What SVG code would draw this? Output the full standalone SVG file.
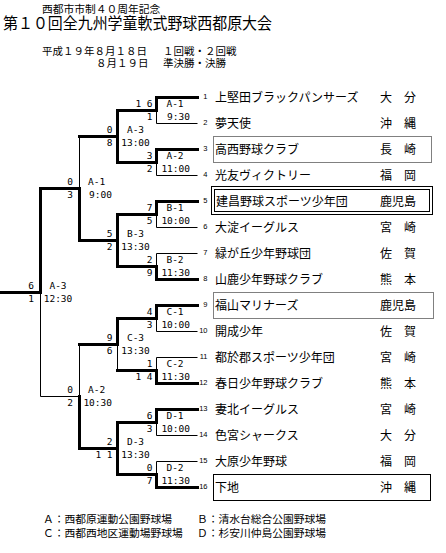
<svg xmlns="http://www.w3.org/2000/svg" width="446" height="553" viewBox="0 0 446 553">
<style>
.j{font-family:"Noto Sans CJK JP","Noto Sans CJK SC",sans-serif;fill:#000}
.nm{font-size:12px}
.no{font-family:"Liberation Sans",sans-serif;font-size:7.5px;text-anchor:end;fill:#000}
.s{font-family:"DejaVu Sans Mono",monospace;font-size:9.5px;fill:#000}
.e{text-anchor:end}
.m{text-anchor:middle}
.k{stroke:#000;stroke-width:3;fill:none;stroke-linejoin:miter;stroke-linecap:square}
.n{stroke:#000;stroke-width:1;fill:none}
.dot{stroke:#000;stroke-width:1;fill:none;stroke-dasharray:1 1}
.box{stroke:#000;stroke-width:1;fill:none}
</style>
<rect width="446" height="553" fill="#fff"/>
<g id="title">
<text class="j" x="42" y="12.5" font-size="10.75">西都市市制４０周年記念</text>
<text class="j" x="3" y="28.5" font-size="16" textLength="269" lengthAdjust="spacingAndGlyphs">第１０回全九州学童軟式野球西都原大会</text>
<text class="j" x="42" y="55" font-size="10.5">平成１９年８月１８日</text>
<text class="j" x="163" y="55" font-size="10.5">１回戦・２回戦</text>
<text class="j" x="96" y="66.5" font-size="10.5">８月１９日</text>
<text class="j" x="163" y="66.5" font-size="10.5">準決勝・決勝</text>
</g>
<g id="connectors" transform="translate(0.5,0.5)">
<path class="k" d="M197,97H156V110H117V162H156V149H197"/>
<path class="k" d="M117,136H79"/>
<path class="k" d="M197,201H156V214H117V266H156V279H197"/>
<path class="k" d="M117,240H79V188H40V292H0"/>
<path class="k" d="M197,305H156V318H117V344H79"/>
<path class="k" d="M197,383H156V370H117"/>
<path class="k" d="M197,409H156V422H117V474H156V487H197"/>
<path class="k" d="M117,448H79V396"/>
<path class="n" d="M156,110V123H197"/>
<path class="n" d="M156,162V175H197"/>
<path class="n" d="M156,214V227H197"/>
<path class="n" d="M156,266V253H197"/>
<path class="n" d="M156,318V331H197"/>
<path class="n" d="M156,370V357H197"/>
<path class="n" d="M117,344V370"/>
<path class="n" d="M156,422V435H197"/>
<path class="n" d="M156,474V461H197"/>
<path class="n" d="M79,136V188"/>
<path class="n" d="M79,344V396H40V292"/>
</g>
<g id="match-A1"><text class="s" x="135.4" y="107">1<tspan dx="5.7">6</tspan></text><text class="s e" x="152.5" y="119.5">1</text><text class="s m" x="175" y="107">A-1</text><text class="s e" x="190" y="119.5">9:30</text></g>
<g id="match-A2"><text class="s e" x="152.5" y="159">3</text><text class="s e" x="152.5" y="171.5">2</text><text class="s m" x="175" y="159">A-2</text><text class="s e" x="190" y="171.5">11:00</text></g>
<g id="match-B1"><text class="s e" x="152.5" y="211">7</text><text class="s e" x="152.5" y="223.5">5</text><text class="s m" x="175" y="211">B-1</text><text class="s e" x="190" y="223.5">10:00</text></g>
<g id="match-B2"><text class="s e" x="152.5" y="263">2</text><text class="s e" x="152.5" y="275.5">9</text><text class="s m" x="175" y="263">B-2</text><text class="s e" x="190" y="275.5">11:30</text></g>
<g id="match-C1"><text class="s e" x="152.5" y="315">4</text><text class="s e" x="152.5" y="327.5">3</text><text class="s m" x="175" y="315">C-1</text><text class="s e" x="190" y="327.5">10:00</text></g>
<g id="match-C2"><text class="s e" x="152.5" y="367">1</text><text class="s" x="135.4" y="379.5">1<tspan dx="5.7">4</tspan></text><text class="s m" x="175" y="367">C-2</text><text class="s e" x="190" y="379.5">11:30</text></g>
<g id="match-D1"><text class="s e" x="152.5" y="419">6</text><text class="s e" x="152.5" y="431.5">3</text><text class="s m" x="175" y="419">D-1</text><text class="s e" x="190" y="431.5">10:00</text></g>
<g id="match-D2"><text class="s e" x="152.5" y="471">0</text><text class="s e" x="152.5" y="483.5">7</text><text class="s m" x="175" y="471">D-2</text><text class="s e" x="190" y="483.5">11:30</text></g>
<g id="match-A3"><text class="s e" x="112.5" y="133">0</text><text class="s e" x="112.5" y="145.5">8</text><text class="s m" x="135.5" y="133">A-3</text><text class="s m" x="135.5" y="145.5">13:00</text></g>
<g id="match-B3"><text class="s e" x="112.5" y="237">5</text><text class="s e" x="112.5" y="249.5">2</text><text class="s m" x="135.5" y="237">B-3</text><text class="s m" x="135.5" y="249.5">13:30</text></g>
<g id="match-C3"><text class="s e" x="112.5" y="341">9</text><text class="s e" x="112.5" y="353.5">6</text><text class="s m" x="135.5" y="341">C-3</text><text class="s m" x="135.5" y="353.5">13:30</text></g>
<g id="match-D3"><text class="s e" x="112.5" y="445">2</text><text class="s" x="95.4" y="457.5">1<tspan dx="5.7">1</tspan></text><text class="s m" x="135.5" y="445">D-3</text><text class="s m" x="135.5" y="457.5">13:30</text></g>
<g id="semi-A1"><text class="s e" x="73" y="185">0</text><text class="s e" x="73" y="197.5">3</text><text class="s" x="88" y="185">A-1</text><text class="s e" x="112" y="197.5">9:00</text></g>
<g id="semi-A2"><text class="s e" x="73" y="393">0</text><text class="s e" x="73" y="405.5">2</text><text class="s" x="88" y="393">A-2</text><text class="s e" x="112" y="405.5">10:30</text></g>
<g id="final-A3"><text class="s e" x="34" y="289">6</text><text class="s e" x="34" y="301.5">1</text><text class="s m" x="58" y="289">A-3</text><text class="s m" x="58" y="301.5">12:30</text></g>
<g id="team1"><text class="no" x="207.5" y="98.5">1</text><text class="j nm" x="215" y="102">上堅田ブラックパンサーズ</text><text class="j nm" x="380" y="102">大　分</text></g>
<g id="team2"><text class="no" x="207.5" y="124.5">2</text><text class="j nm" x="215" y="128">夢天使</text><text class="j nm" x="380" y="128">沖　縄</text></g>
<g id="team3"><rect class="dot" x="213.5" y="136.5" width="218" height="26"/><text class="no" x="207.5" y="150.5">3</text><text class="j nm" x="215" y="154">高西野球クラブ</text><text class="j nm" x="380" y="154">長　崎</text></g>
<g id="team4"><text class="no" x="207.5" y="176.5">4</text><text class="j nm" x="215" y="180">光友ヴィクトリー</text><text class="j nm" x="380" y="180">福　岡</text></g>
<g id="team5"><rect class="box" x="211.5" y="186.5" width="221" height="28"/><rect class="box" x="214.5" y="189.5" width="215" height="22"/><text class="no" x="207.5" y="202.5">5</text><text class="j nm" x="216" y="206">建昌野球スポーツ少年団</text><text class="j nm" x="380" y="206">鹿児島</text></g>
<g id="team6"><text class="no" x="207.5" y="228.5">6</text><text class="j nm" x="215" y="232">大淀イーグルス</text><text class="j nm" x="380" y="232">宮　崎</text></g>
<g id="team7"><text class="no" x="207.5" y="254.5">7</text><text class="j nm" x="215" y="258">緑が丘少年野球団</text><text class="j nm" x="380" y="258">佐　賀</text></g>
<g id="team8"><text class="no" x="207.5" y="280.5">8</text><text class="j nm" x="215" y="284">山鹿少年野球クラブ</text><text class="j nm" x="380" y="284">熊　本</text></g>
<g id="team9"><rect class="dot" x="213.5" y="292.5" width="220" height="26"/><text class="no" x="207.5" y="306.5">9</text><text class="j nm" x="215" y="310">福山マリナーズ</text><text class="j nm" x="380" y="310">鹿児島</text></g>
<g id="team10"><text class="no" x="207.5" y="332.5">10</text><text class="j nm" x="215" y="336">開成少年</text><text class="j nm" x="380" y="336">佐　賀</text></g>
<g id="team11"><text class="no" x="207.5" y="358.5">11</text><text class="j nm" x="215" y="362">都於郡スポーツ少年団</text><text class="j nm" x="380" y="362">宮　崎</text></g>
<g id="team12"><text class="no" x="207.5" y="384.5">12</text><text class="j nm" x="215" y="388">春日少年野球クラブ</text><text class="j nm" x="380" y="388">熊　本</text></g>
<g id="team13"><text class="no" x="207.5" y="410.5">13</text><text class="j nm" x="215" y="414">妻北イーグルス</text><text class="j nm" x="380" y="414">宮　崎</text></g>
<g id="team14"><text class="no" x="207.5" y="436.5">14</text><text class="j nm" x="215" y="440">色宮シャークス</text><text class="j nm" x="380" y="440">大　分</text></g>
<g id="team15"><text class="no" x="207.5" y="462.5">15</text><text class="j nm" x="215" y="466">大原少年野球</text><text class="j nm" x="380" y="466">福　岡</text></g>
<g id="team16"><rect class="box" x="213.5" y="474.5" width="217" height="26"/><text class="no" x="207.5" y="488.5">16</text><text class="j nm" x="215" y="492">下地</text><text class="j nm" x="380" y="492">沖　縄</text></g>
<g id="legend">
<text class="j" x="43" y="523" font-size="10.75">Ａ：西都原運動公園野球場</text>
<text class="j" x="197" y="523" font-size="10.75">Ｂ：清水台総合公園野球場</text>
<text class="j" x="43" y="537" font-size="10.75">Ｃ：西都西地区運動場野球場</text>
<text class="j" x="197" y="537" font-size="10.75">Ｄ：杉安川仲島公園野球場</text>
</g>
</svg>
